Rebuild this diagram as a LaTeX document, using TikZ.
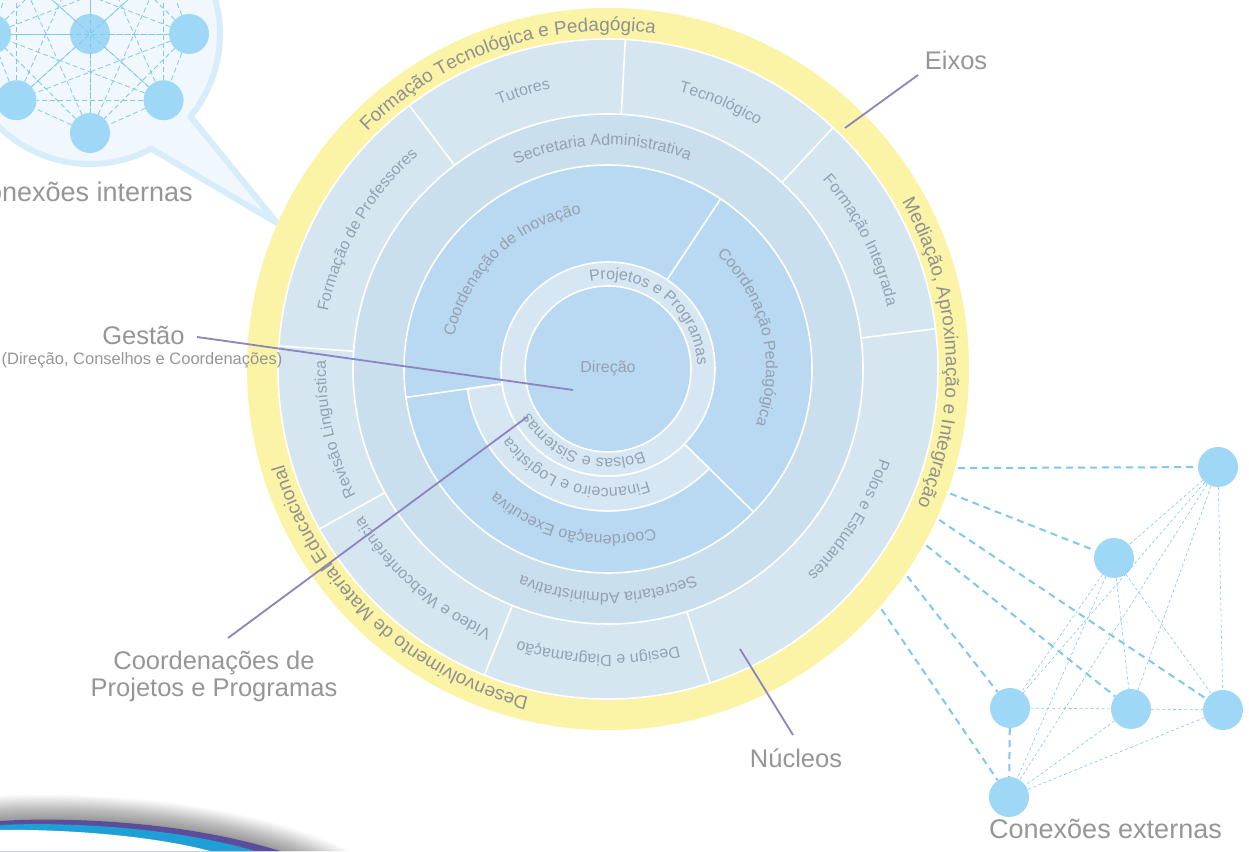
\documentclass[tikz,border=0pt]{standalone}
\usepackage{fontspec}
\setmainfont{Liberation Sans}
\usetikzlibrary{decorations.text,calc}
\definecolor{yel}{RGB}{251,243,166}
\definecolor{rsix}{RGB}{214,230,241}
\definecolor{rfive}{RGB}{201,223,238}
\definecolor{rfour}{RGB}{185,216,241}
\definecolor{rthree}{RGB}{214,231,243}
\definecolor{rtwo}{RGB}{214,231,243}
\definecolor{rone}{RGB}{185,216,241}
\definecolor{rtext}{RGB}{148,161,178}
\definecolor{ytext}{RGB}{145,145,145}
\definecolor{lblgray}{RGB}{150,150,150}
\definecolor{ptr}{RGB}{140,132,192}
\definecolor{netnode}{RGB}{158,216,246}
\definecolor{netline}{RGB}{128,200,236}
\definecolor{bubfill}{RGB}{240,247,253}
\definecolor{bubline}{RGB}{216,237,250}
\definecolor{swpurple}{RGB}{92,76,156}
\definecolor{swcyan}{RGB}{30,160,215}
\newcommand{\ringtext}[6]{\path[decorate,decoration={text along path,text align=center,text={|\fontsize{#4}{#4}\selectfont\color{#6}|#5}}] (#1+#3:#2) arc[start angle=#1+#3,end angle=#1-#3,radius=#2];}
\begin{document}
\begin{tikzpicture}[x=1pt,y=1pt,
  lbl/.style={font=\fontsize{25.5}{25.5}\selectfont, text=lblgray, inner sep=0pt},
  ptrline/.style={draw=ptr, line width=1.8pt},
  cell/.style={draw=white, line width=1.6pt},
  netdot/.style={circle, fill=netnode, minimum size=40pt, inner sep=0pt},
  netthin/.style={draw=netline, line width=0.6pt, dash pattern=on 3pt off 2.5pt},
  netthick/.style={draw=netline, line width=2pt, dash pattern=on 7pt off 5pt},
  bubedge/.style={draw=netline, line width=0.8pt, dash pattern=on 5pt off 3pt},
]
\useasboundingbox (0,0) rectangle (1249,851);
\clip (0,0) rectangle (1249,851);
\fill[white] (0,0) rectangle (1249,851);

% speech bubble (internal connections)
\coordinate (bubc) at (90,817);
\coordinate (bubtip) at (277,628);
\filldraw[fill=bubfill, draw=bubline, line width=6pt, line join=round]
  ($(bubc)+(-39.4:130)$) -- (bubtip) -- ($(bubc)+(-61.9:130)$)
  arc[start angle=-61.9, end angle=-399.4, radius=130] -- cycle;
\node[netdot] (b0) at (bubc) {};
\foreach \n/\a in {1/0,2/-42,3/-90,4/-138,5/180,6/138,7/90,8/42}
  \node[netdot] (b\n) at ($(bubc)+(\a:99)$) {};
\foreach \i in {0,...,8}{
  \foreach \j in {0,...,8}{
    \ifnum\i<\j \draw[bubedge] (b\i) -- (b\j); \fi
  }
}

% main circle
\begin{scope}[shift={(608,482)}]
\fill[yel] (0,0) circle[radius=361];
\filldraw[fill=rsix, cell] (0,0) circle[radius=330];
\foreach \a in {7,47,87,127,176,209,248,288} \draw[cell] (\a:255) -- (\a:330);
\filldraw[fill=rfive, cell] (0,0) circle[radius=255];
\filldraw[fill=rfour, cell] (0,0) circle[radius=204];
\filldraw[fill=rthree, cell] (188:107) -- (188:142) arc[start angle=188,end angle=315.5,radius=142]
  -- (315.5:107) arc[start angle=315.5,end angle=188,radius=107] -- cycle;
\foreach \a in {56.5,188,315.5} \draw[cell] (\a:107) -- (\a:204);
\filldraw[fill=rtwo, cell] (0,0) circle[radius=107];
\filldraw[fill=rone, cell] (0,0) circle[radius=83];

\node[font=\fontsize{16}{16}\selectfont, text=rtext, inner sep=0pt] (direcao) at (0,1) {Direção};
\ringtext{52}{89.5}{80}{16}{Projetos e Programas}{rtext}
\ringtext{251}{89.5}{80}{16}{Bolsas e Sistemas}{rtext}
\ringtext{252}{119}{70}{16}{Financeiro e Logística}{rtext}
\ringtext{257}{166}{60}{16}{Coordenação Executiva}{rtext}
\ringtext{134}{157}{60}{16}{Coordenação de Inovação}{rtext}
\ringtext{13}{158}{60}{16}{Coordenação Pedagógica}{rtext}
\ringtext{91.5}{224}{40}{16}{Secretaria Administrativa}{rtext}
\ringtext{270}{224}{40}{16}{Secretaria Administrativa}{rtext}
\ringtext{107}{286}{22}{16}{Tutores}{rtext}
\ringtext{67}{286}{22}{16}{Tecnológico}{rtext}
\ringtext{27}{286}{25}{16}{Formação Integrada}{rtext}
\ringtext{-32}{286}{25}{16}{Polos e Estudantes}{rtext}
\ringtext{268}{286}{25}{16}{Design e Diagramação}{rtext}
\ringtext{228.5}{286}{25}{16}{Vídeo e Webconferência}{rtext}
\ringtext{192.5}{282}{25}{16}{Revisão Linguística}{rtext}
\ringtext{150}{286}{25}{16}{Formação de Professores}{rtext}
\ringtext{108.7}{338}{45}{19}{Formação Tecnológica e Pedagógica}{ytext}
\ringtext{3}{338}{45}{19}{Mediação, Aproximação e Integração}{ytext}
\ringtext{226.5}{338}{45}{19}{Desenvolvimento de Material Educacional}{ytext}

\foreach \n/\a in {1/-15.8,2/-20,3/-24.5,4/-29,5/-34.7,6/-41.3}
  \coordinate (e\n) at (\a:364);
\end{scope}

% external network
\node[netdot] (n1) at (1218,384) {};
\node[netdot] (n2) at (1114,293) {};
\node[netdot] (n3) at (1010,143) {};
\node[netdot] (n4) at (1131,142) {};
\node[netdot] (n5) at (1223,141) {};
\node[netdot] (n6) at (1009,54) {};
\foreach \p/\q in {n1/n2,n1/n3,n1/n4,n1/n5,n1/n6,n2/n3,n2/n4,n2/n5,n2/n6,n3/n4,n4/n5,n4/n6,n5/n6}
  \draw[netthin] (\p) -- (\q);
\draw[netthick] (n3) -- (n6);
\draw[netthick] (e1) -- (n1);
\draw[netthick] (e2) -- (n2);
\draw[netthick] (e3) -- (n5);
\draw[netthick] (e4) -- (n4);
\draw[netthick] (e5) -- (n3);
\draw[netthick] (e6) -- (n6);

% labels
\node[lbl, anchor=base] (eixos) at (956,781) {Eixos};
\node[lbl, anchor=base] (gestao) at (143.5,506) {Gestão};
\node[lbl, font=\fontsize{16.5}{16.5}\selectfont, anchor=base] (gestaosub) at (142,486) {(Direção, Conselhos e Coordenações)};
\node[lbl, anchor=base] (coorda) at (214,181) {Coordenações de};
\node[lbl, anchor=base] (coordb) at (214,154) {Projetos e Programas};
\node[lbl, anchor=base] (nucleos) at (796,84) {Núcleos};
\node[lbl, font=\fontsize{27}{27}\selectfont, anchor=base] (cext) at (1105.5,13) {Conexões externas};
\node[lbl, font=\fontsize{27}{27}\selectfont, anchor=base east] (cint) at (193,649) {Conexões internas};

% pointers
\coordinate (gestaotail) at (197,514);
\coordinate (gestaotip) at (573,461);
\coordinate (coordtail) at (228,213);
\coordinate (coordtip) at (527,434);
\coordinate (eixostail) at (918,776);
\coordinate (eixostip) at (845,723);
\coordinate (nucleostail) at (793,116);
\coordinate (nucleostip) at (740,202);
\draw[ptrline] (gestaotail) -- (gestaotip);
\draw[ptrline] (coordtail) -- (coordtip);
\draw[ptrline] (eixostail) -- (eixostip);
\draw[ptrline] (nucleostail) -- (nucleostip);

% bottom-left swoosh
\foreach \k in {1,...,28}
  \fill[black, opacity=0.014] (0,30+0.9*\k) .. controls (60,34+0.9*\k) and (180+2*\k,31+0.9*\k) .. (280+2.5*\k,0) -- (0,0) -- cycle;
\fill[swpurple] (0,30) .. controls (60,34) and (180,31) .. (280,0) -- (0,0) -- cycle;
\fill[swcyan] (0,26) .. controls (60,29) and (170,25) .. (255,0) -- (0,0) -- cycle;
\fill[white] (0,21) .. controls (60,22) and (150,16) .. (210,0) -- (0,0) -- cycle;
\end{tikzpicture}
\end{document}
